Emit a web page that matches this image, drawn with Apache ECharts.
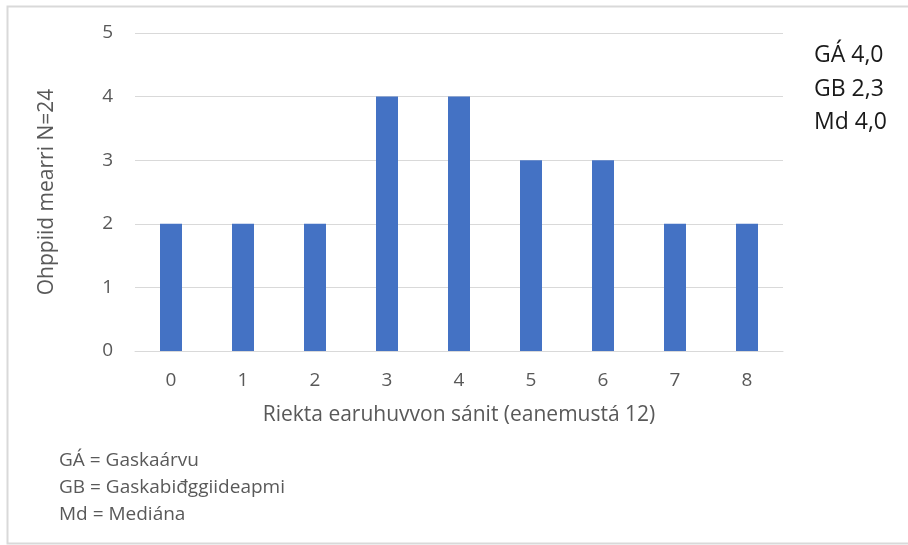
<!DOCTYPE html>
<html>
<head>
<meta charset="utf-8">
<script src="https://cdn.jsdelivr.net/npm/echarts@6/dist/echarts.min.js"></script>
<style>
html, body { margin: 0; padding: 0; background: #fff; }
#main { width: 908px; height: 545px; }
</style>
</head>
<body>
<div id="main"></div>
<script>
// data
var categories = ['0', '1', '2', '3', '4', '5', '6', '7', '8']
var counts = [2, 2, 2, 4, 4, 3, 3, 2, 2]
var yTicks = [0, 1, 2, 3, 4, 5]
var statsLines = ['GÁ 4,0', 'GB 2,3', 'Md 4,0']
var noteLines = ['GÁ = Gaskaárvu', 'GB = Gaskabiđggiideapmi', 'Md = Mediána']

var font = '"Open Sans", "Noto Sans", sans-serif'
var myChart = echarts.init(document.getElementById('main'))

var graphics = [{
    type: 'rect',
    shape: { x: 7.5, y: 6.5, width: 910, height: 537 },
    style: { fill: 'none', stroke: '#d9d9d9', lineWidth: 2 },
    silent: true
}]
statsLines.forEach(function (t, i) {
    graphics.push({
        type: 'text', left: 814, top: 44 + i * 33.5,
        style: { text: t, font: '23px ' + font, fill: '#1a1a1a' }
    })
})
noteLines.forEach(function (t, i) {
    graphics.push({
        type: 'text', left: 59, top: 451 + i * 27,
        style: { text: t, font: '19px ' + font, fill: '#595959' }
    })
})

myChart.setOption({
    animation: false,
    textStyle: { fontFamily: font },
    grid: { left: 135, right: 125, top: 33, bottom: 194, containLabel: false },
    graphic: graphics,
    xAxis: {
        type: 'category',
        data: categories,
        axisTick: { show: false },
        axisLine: { lineStyle: { color: '#d9d9d9', width: 1 } },
        axisLabel: { color: '#595959', fontSize: 19, margin: 20 },
        name: 'Riekta earuhuvvon sánit (eanemustá 12)',
        nameLocation: 'middle',
        nameGap: 54,
        nameTextStyle: { color: '#595959', fontSize: 21 }
    },
    yAxis: {
        type: 'value',
        min: yTicks[0],
        max: yTicks[yTicks.length - 1],
        interval: 1,
        axisLabel: { color: '#595959', fontSize: 19, margin: 22 },
        splitLine: { lineStyle: { color: '#d9d9d9', width: 1 } },
        axisLine: { show: false },
        name: 'Ohppiid mearri N=24',
        nameLocation: 'middle',
        nameGap: 77,
        nameTextStyle: { color: '#595959', fontSize: 21 }
    },
    series: [{
        type: 'bar',
        data: counts,
        barWidth: 22,
        itemStyle: { color: '#4472c4' }
    }]
})
</script>
</body>
</html>
